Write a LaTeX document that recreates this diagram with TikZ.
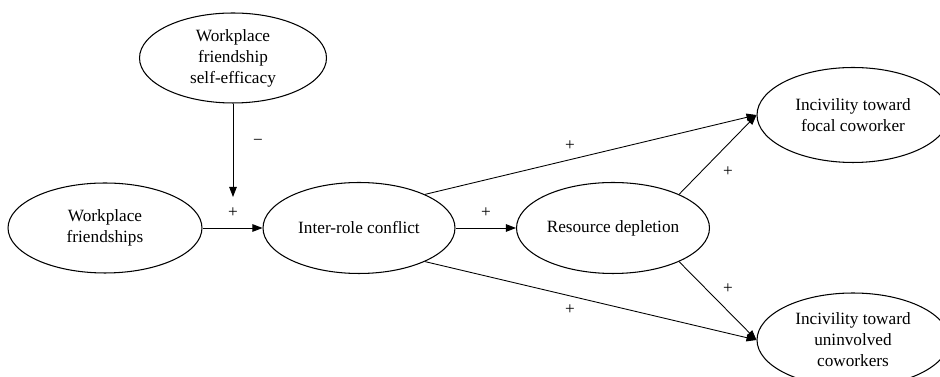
\documentclass[tikz,border=0pt]{standalone}
\usepackage{fontspec}
\setmainfont{Liberation Serif}
\usetikzlibrary{shapes.geometric,arrows.meta}

\begin{document}
\begin{tikzpicture}[x=0.02cm,y=-0.02cm]
	\tikzstyle{every node}+=[inner sep=0pt, font=\fontsize{9.8}{12}\selectfont]
	\tikzstyle{latent}=[draw, ellipse, line width=0.6pt, align=center, minimum width=3.86cm, minimum height=1.82cm]
	\tikzstyle{link}=[line width=0.5pt, -{Triangle[length=2mm,width=1.5mm]}]
	\useasboundingbox (0,0) rectangle (940,377);
	\clip (0,0) rectangle (940,377);
	% constructs
	\node [latent, minimum width=3.74cm, minimum height=1.8cm] (eff) at (233,58) {Workplace\\friendship\\self-efficacy};
	\node [latent, minimum width=3.88cm, minimum height=1.8cm] (fr) at (105,228) {Workplace\\friendships};
	\node [latent, minimum width=3.84cm] (irc) at (359,228) {Inter-role conflict};
	\node [latent] (rd) at (613,228) {Resource depletion};
	\node [latent, minimum width=3.84cm, minimum height=1.9cm] (foc) at (853,115) {Incivility toward\\focal coworker};
	\node [latent, minimum width=3.84cm, minimum height=1.88cm] (uni) at (853,340) {Incivility toward\\uninvolved\\coworkers};
	\coordinate (mod) at (233,197);
	% paths
	\draw [link] (eff) -- (mod);
	\draw [link] (fr) -- (irc);
	\draw [link] (irc) -- (rd);
	\draw [link] (irc.27) -- (foc.west);
	\draw [link] (irc.-27) -- (uni.west);
	\draw [link] (rd.27) -- (foc.west);
	\draw [link] (rd.-27) -- (uni.west);
	% signs
	\node (s1) at (258,142) {−};
	\node (s2) at (233,213) {+};
	\node (s3) at (486,213) {+};
	\node (s4) at (570,146) {+};
	\node (s5) at (570,310) {+};
	\node (s6) at (728,172) {+};
	\node (s7) at (728,289) {+};
\end{tikzpicture}
\end{document}
